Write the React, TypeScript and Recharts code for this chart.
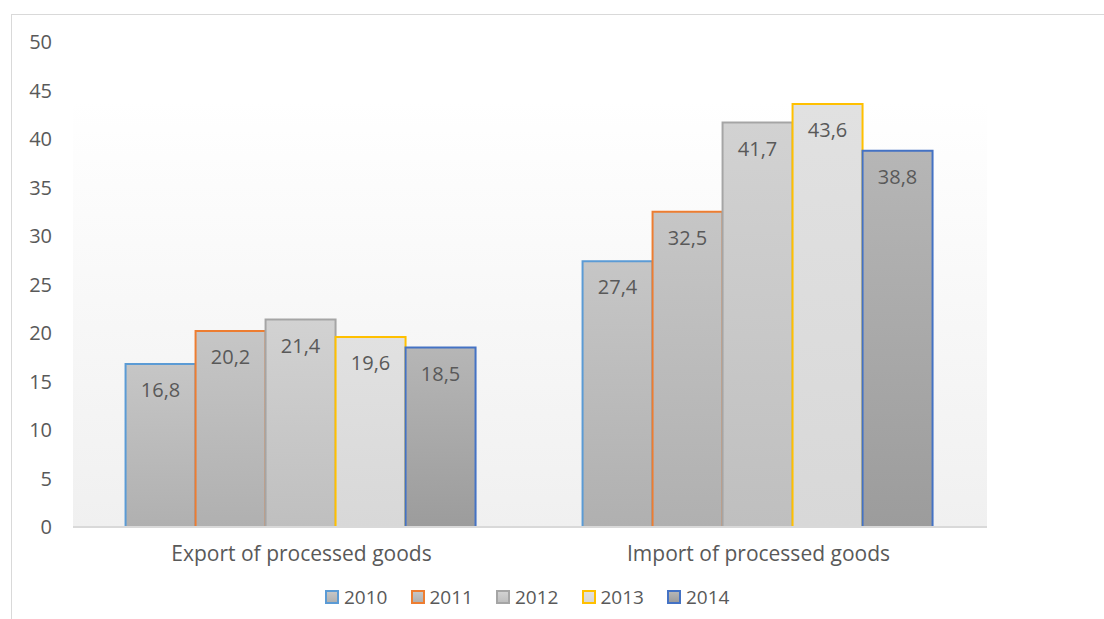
import React from 'react';
import { BarChart, Bar, XAxis, YAxis, CartesianGrid, LabelList } from 'recharts';

const categories = ['Export of processed goods', 'Import of processed goods'];
const years = ['2010', '2011', '2012', '2013', '2014'];
const values2010 = [16.8, 27.4];
const values2011 = [20.2, 32.5];
const values2012 = [21.4, 41.7];
const values2013 = [19.6, 43.6];
const values2014 = [18.5, 38.8];
const yTicks = [0, 5, 10, 15, 20, 25, 30, 35, 40, 45, 50];

const seriesValues = [values2010, values2011, values2012, values2013, values2014];
const strokes = ['#5b9bd5', '#ed7d31', '#a5a5a5', '#ffc000', '#4472c4'];
const fillsTop = ['#c6c6c6', '#c6c6c6', '#d2d2d2', '#e1e1e1', '#b6b6b6'];
const fillsBottom = ['#b0b0b0', '#b0b0b0', '#bfbfbf', '#d8d8d8', '#9c9c9c'];

const data = categories.map((name, i) => {
  const row: Record<string, string | number> = { name };
  years.forEach((y, j) => {
    row[y] = seriesValues[j][i];
  });
  return row;
});

const FONT = '"Open Sans", sans-serif';
const TEXT = '#595959';

const fmt = (v: number) => v.toFixed(1).replace('.', ',');

export default function App() {
  return (
    <div
      style={{
        position: 'fixed',
        left: 0,
        top: 0,
        width: 1104,
        height: 619,
        background: '#fff',
        overflow: 'hidden',
        fontFamily: FONT,
      }}
    >
      <div
        style={{
          position: 'absolute',
          left: 11,
          top: 14,
          width: 1200,
          height: 700,
          border: '1.5px solid #d9d9d9',
        }}
      />
      <div style={{ position: 'absolute', left: 0, top: 0 }}>
        <BarChart
          width={1104}
          height={619}
          data={data}
          margin={{ top: 42, right: 117, left: 0, bottom: 52 }}
          barCategoryGap="11.5%"
          barGap={0}
        >
          <defs>
            <linearGradient id="plotBg" x1="0" y1="0" x2="0" y2="1">
              <stop offset="12%" stopColor="#ffffff" />
              <stop offset="100%" stopColor="#f0f0f0" />
            </linearGradient>
            {years.map((y, i) => (
              <linearGradient key={y} id={`fill${y}`} x1="0" y1="0" x2="0" y2="1">
                <stop offset="0%" stopColor={fillsTop[i]} />
                <stop offset="100%" stopColor={fillsBottom[i]} />
              </linearGradient>
            ))}
          </defs>
          <CartesianGrid horizontal={false} vertical={false} fill="url(#plotBg)" stroke="none" />
          <XAxis
            dataKey="name"
            height={40}
            tickLine={false}
            tickSize={0}
            tickMargin={19}
            axisLine={{ stroke: '#d9d9d9', strokeWidth: 2 }}
            tick={{ fontSize: 21, fill: TEXT, fontFamily: FONT }}
          />
          <YAxis
            width={73}
            domain={[0, 50]}
            ticks={yTicks}
            interval={0}
            axisLine={false}
            tickLine={false}
            tickSize={0}
            tickMargin={21}
            tick={{ fontSize: 20, fill: TEXT, fontFamily: FONT }}
          />
          {years.map((y, i) => (
            <Bar
              key={y}
              dataKey={y}
              fill={`url(#fill${y})`}
              stroke={strokes[i]}
              strokeWidth={2}
              isAnimationActive={false}
            >
              <LabelList
                dataKey={y}
                position="insideTop"
                offset={19}
                formatter={(v: number) => fmt(v)}
                style={{ fontSize: 20, fill: TEXT, fontFamily: FONT }}
              />
            </Bar>
          ))}
        </BarChart>
      </div>
      <div
        style={{
          position: 'absolute',
          left: 325,
          top: 584,
          display: 'flex',
          alignItems: 'center',
          fontSize: 19,
          color: TEXT,
        }}
      >
        {years.map((y, i) => (
          <div key={y} style={{ display: 'flex', alignItems: 'center', width: 85.5 }}>
            <span
              style={{
                display: 'inline-block',
                width: 10,
                height: 10,
                border: `2px solid ${strokes[i]}`,
                background: `linear-gradient(${fillsTop[i]}, ${fillsBottom[i]})`,
                marginRight: 5,
              }}
            />
            <span>{y}</span>
          </div>
        ))}
      </div>
    </div>
  );
}
